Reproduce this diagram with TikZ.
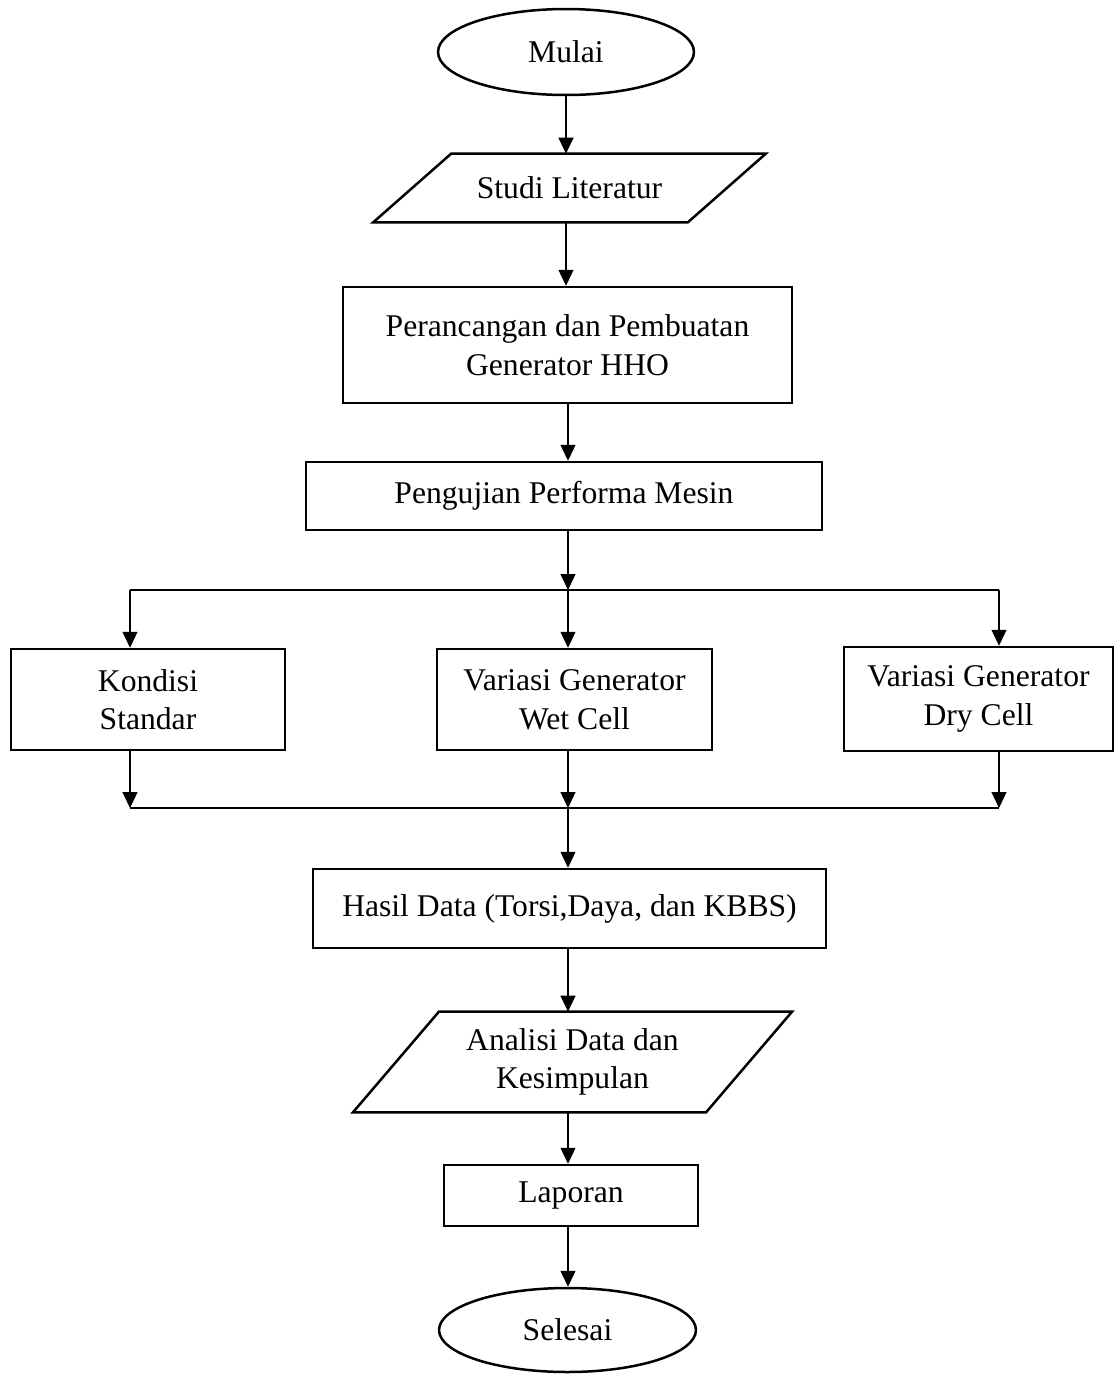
\documentclass[tikz,border=0pt]{standalone}
\usepackage{fontspec}
\setmainfont{Liberation Serif}
\usetikzlibrary{arrows.meta,shapes.geometric}
\tikzset{
Fleche/.style={
 draw=black,
 line width=0.025cm,
 -{Triangle[length=0.32cm,width=0.3cm]}
 },
Trait/.style={
 draw=black,
 line width=0.025cm
 },
Boite/.style={
 draw=black,
 line width=0.05cm,
 rectangle,
 inner sep=0pt,
 align=center,
 font=\fontsize{18}{22}\selectfont
 },
Ovale/.style={
 draw=black,
 line width=0.05cm,
 ellipse,
 inner sep=0pt,
 font=\fontsize{18}{22}\selectfont
 },
Para/.style={
 rectangle,
 inner sep=0pt,
 align=center,
 font=\fontsize{18}{22}\selectfont
 },
Bord/.style={
 draw=black,
 line width=0.05cm
 }
}
\newcommand{\Parallelo}[2]{%
 \draw[Bord] ([xshift=#2]#1.north west) -- ([xshift=#2]#1.north east)
 -- ([xshift=-#2]#1.south east) -- ([xshift=-#2]#1.south west) -- cycle;}

\begin{document}
\begin{tikzpicture}[x=0.02cm,y=-0.02cm]
\useasboundingbox (0,0) rectangle (1115,1374);
\node[Ovale,minimum width=5.12cm,minimum height=1.72cm] (mulai) at (566,52) {Mulai};
\node[Para,minimum width=6.28cm,minimum height=1.36cm] (studi) at (569.5,188) {Studi Literatur};
\Parallelo{studi}{0.78cm}
\node[Boite,minimum width=8.98cm,minimum height=2.32cm] (rancang) at (567.5,345) {Perancangan dan Pembuatan\\Generator HHO};
\node[Boite,minimum width=10.32cm,minimum height=1.36cm] (uji) at (564,496) {Pengujian Performa Mesin};
\node[Boite,minimum width=5.48cm,minimum height=2.02cm] (kondisi) at (148,699.5) {Kondisi\\Standar};
\node[Boite,minimum width=5.5cm,minimum height=2.02cm] (wet) at (574.5,699.5) {Variasi Generator\\Wet Cell};
\node[Boite,minimum width=5.38cm,minimum height=2.08cm] (dry) at (978.5,699) {Variasi Generator\\Dry Cell};
\node[Boite,minimum width=10.26cm,minimum height=1.58cm] (hasil) at (569.5,908.5) {Hasil Data (Torsi,Daya, dan KBBS)};
\node[Para,minimum width=7.05cm,minimum height=2cm] (analisi) at (572.5,1062) {Analisi Data dan\\Kesimpulan};
\Parallelo{analisi}{0.86cm}
\node[Boite,minimum width=5.08cm,minimum height=1.22cm] (laporan) at (571,1195.5) {Laporan};
\node[Ovale,minimum width=5.14cm,minimum height=1.68cm] (selesai) at (567.5,1330) {Selesai};
% percabangan
\coordinate (pg) at (130,590);
\coordinate (pm) at (568,590);
\coordinate (pd) at (999,590);
\coordinate (bg) at (130,808);
\coordinate (bm) at (568,808);
\coordinate (bd) at (999,808);
\draw[Fleche] (mulai.south) -- (mulai.south |- studi.north);
\draw[Fleche] (studi.south -| mulai.south) -- (mulai.south |- rancang.north);
\draw[Fleche] (rancang.south -| pm) -- (pm |- uji.north);
\draw[Fleche] (uji.south -| pm) -- (pm);
\draw[Trait] (pg) -- (pd);
\draw[Fleche] (pg) -- (pg |- kondisi.north);
\draw[Fleche] (pm) -- (pm |- wet.north);
\draw[Fleche] (pd) -- (pd |- dry.north);
\draw[Fleche] (kondisi.south -| bg) -- (bg);
\draw[Fleche] (wet.south -| bm) -- (bm);
\draw[Fleche] (dry.south -| bd) -- (bd);
\draw[Trait] (bg) -- (bd);
\draw[Fleche] (bm) -- (bm |- hasil.north);
\draw[Fleche] (hasil.south -| bm) -- (bm |- analisi.north);
\draw[Fleche] (analisi.south -| bm) -- (bm |- laporan.north);
\draw[Fleche] (laporan.south -| bm) -- (bm |- selesai.north);
\end{tikzpicture}
\end{document}
